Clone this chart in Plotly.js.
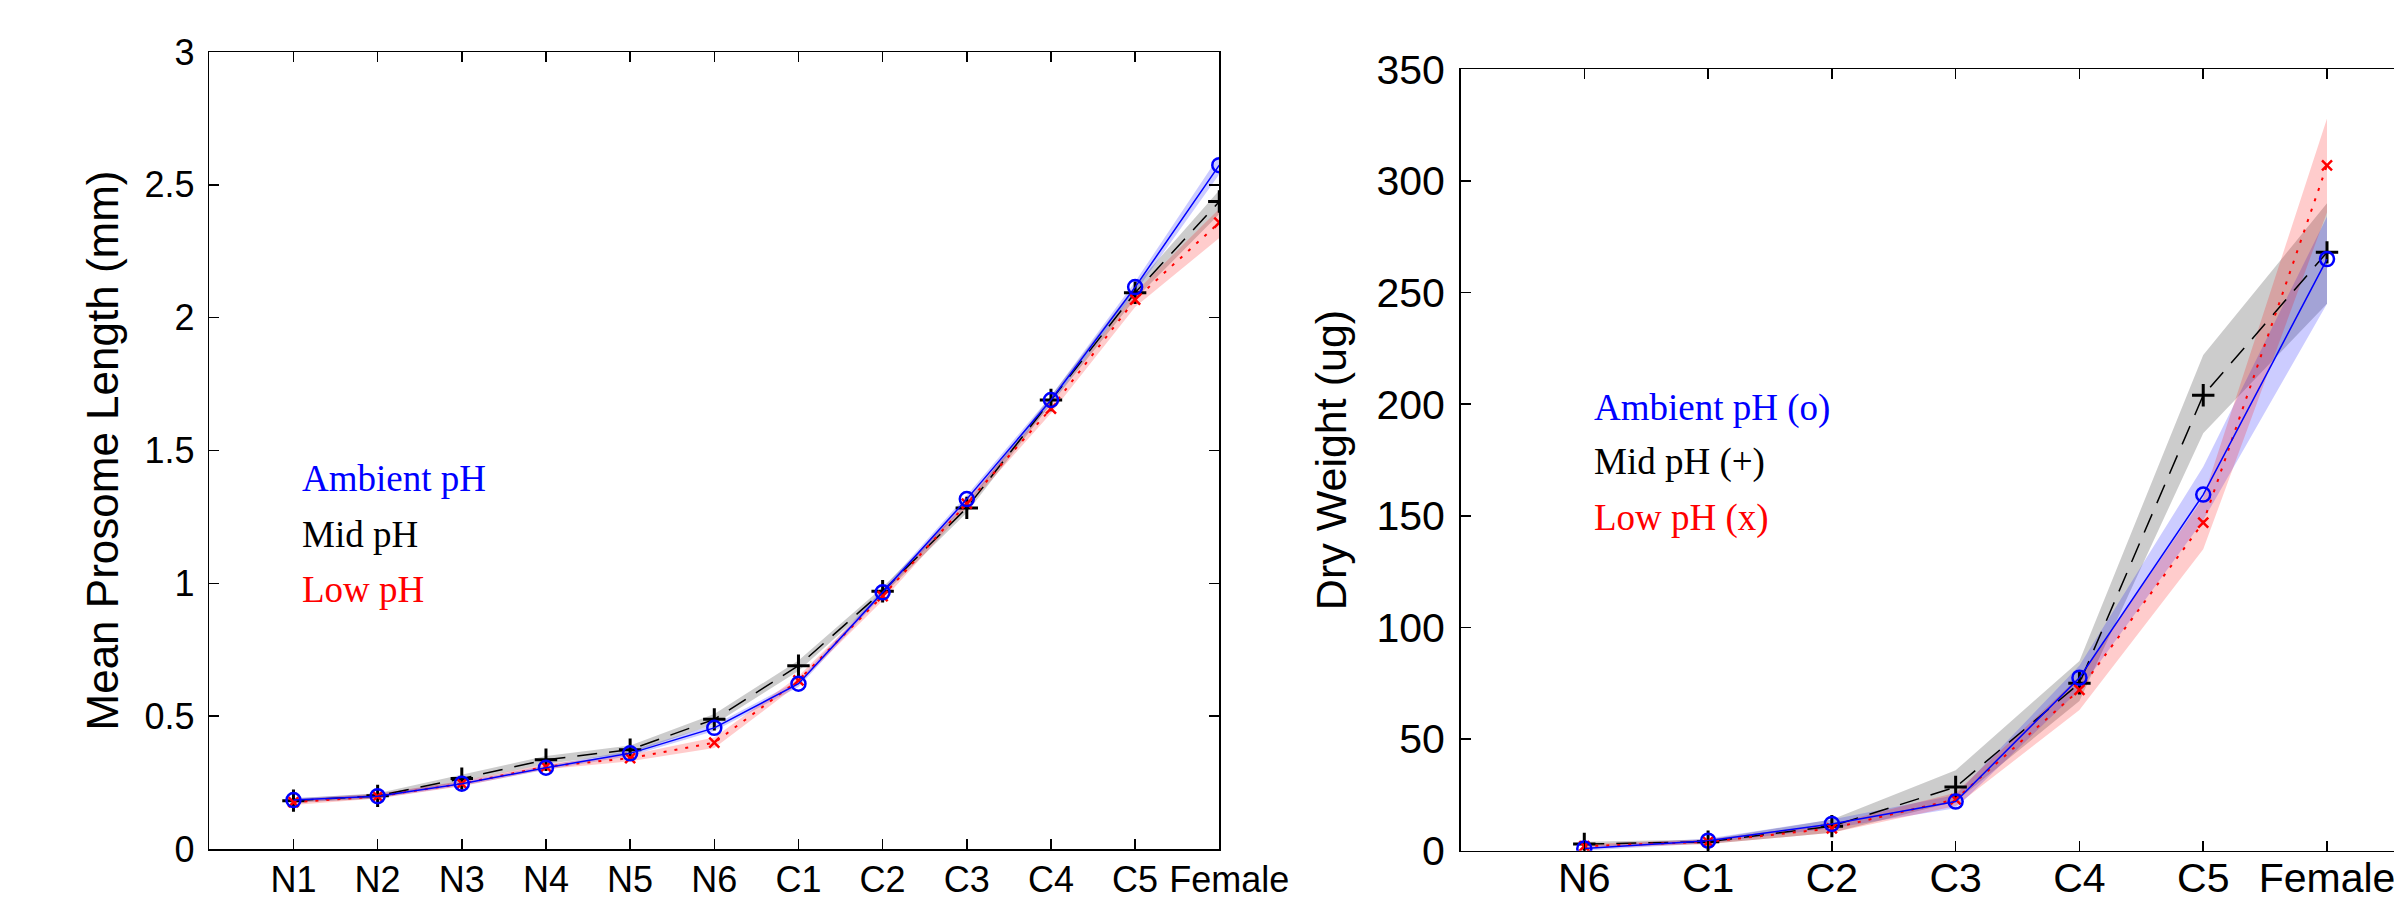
<!DOCTYPE html>
<html><head><meta charset="utf-8">
<script src="https://cdn.plot.ly/plotly-3.0.1.min.js"></script>
<style>html,body{margin:0;padding:0;overflow:hidden;background:#fff}#chart{width:2460px;height:899px}</style>
</head><body><div id="chart"></div>
<script>
// ---- Left panel: mean prosome length (mm) ----
const stagesLen = ['N1','N2','N3','N4','N5','N6','C1','C2','C3','C4','C5','Female'];
const stagesLenText = ['N1','N2','N3','N4','N5','N6','C1','C2','C3','C4','C5','\u00a0\u00a0Female'];
const ambientLen   = [0.184,0.199,0.246,0.306,0.360,0.456,0.622,0.966,1.317,1.690,2.115,2.574];
const ambientLenLo = [0.176,0.191,0.238,0.298,0.350,0.444,0.610,0.955,1.300,1.675,2.095,2.540];
const ambientLenHi = [0.192,0.207,0.254,0.314,0.370,0.468,0.634,0.978,1.332,1.705,2.135,2.610];
const midLen   = [0.182,0.200,0.265,0.336,0.374,0.488,0.690,0.970,1.284,1.690,2.094,2.437];
const midLenLo = [0.174,0.190,0.254,0.320,0.360,0.470,0.670,0.955,1.266,1.675,2.070,2.390];
const midLenHi = [0.190,0.210,0.280,0.350,0.390,0.508,0.710,0.985,1.300,1.705,2.120,2.480];
const lowLen   = [0.176,0.198,0.246,0.310,0.342,0.400,0.635,0.952,1.300,1.658,2.068,2.358];
const lowLenLo = [0.166,0.190,0.236,0.300,0.330,0.380,0.620,0.935,1.285,1.640,2.040,2.300];
const lowLenHi = [0.186,0.208,0.256,0.320,0.355,0.420,0.650,0.965,1.315,1.675,2.095,2.410];

// ---- Right panel: dry weight (ug) ----
const stagesWt = ['N6','C1','C2','C3','C4','C5','Female'];
const ambientWt   = [1,4.5,12,22,77.5,159.5,265];
const ambientWtLo = [0,3.5,10,19,72,148,245];
const ambientWtHi = [2,5.5,14,25,83,172,284];
const midWt   = [3,4,11,28.5,75,204,268];
const midWtLo = [2,3,8,22,67,187,245];
const midWtHi = [4,5,14,36,85,222,290];
const lowWt   = [2,4,10,23,72,147,307];
const lowWtLo = [1,3,8,20,63,135,286];
const lowWtHi = [3,5,12,26,78,158,328];

const lenTicks = [0,0.5,1,1.5,2,2.5,3];
const lenTickText = ['0','0.5','1','1.5','2','2.5','3'];
const wtTicks = [0,50,100,150,200,250,300,350];

function band(xs, lo, hi, color, xa, ya){
  return {x: xs.concat(xs.slice().reverse()), y: lo.concat(hi.slice().reverse()),
    type:'scatter', mode:'lines', fill:'toself', fillcolor:color, line:{width:0, color:'rgba(0,0,0,0)'},
    hoverinfo:'skip', showlegend:false, xaxis:xa, yaxis:ya};
}
function series(xs, ys, color, dash, symbol, msize, mlw, lw, xa, ya, name){
  return {x: xs, y: ys, type:'scatter', mode:'lines+markers', name:name, showlegend:false,
    line:{color:color, width:lw, dash:dash},
    marker:{symbol:symbol, size:msize, color:color, line:{color:color, width:mlw}},
    xaxis:xa, yaxis:ya};
}

const DASH = '20px,12px', DOT = '3px,8px';
const traces = [
  band(stagesLen, midLenLo, midLenHi, 'rgba(0,0,0,0.2)', 'x', 'y'),
  band(stagesLen, ambientLenLo, ambientLenHi, 'rgba(0,0,255,0.2)', 'x', 'y'),
  band(stagesLen, lowLenLo, lowLenHi, 'rgba(255,0,0,0.2)', 'x', 'y'),
  series(stagesLen, midLen, '#000000', DASH, 'cross-thin-open', 16, 3, 1.5, 'x', 'y', 'Mid pH'),
  series(stagesLen, lowLen, '#ff0000', DOT, 'x-thin-open', 10, 2.5, 2, 'x', 'y', 'Low pH'),
  series(stagesLen, ambientLen, '#0000ff', 'solid', 'circle-open', 14, 2.5, 1.5, 'x', 'y', 'Ambient pH'),

  band(stagesWt, midWtLo, midWtHi, 'rgba(0,0,0,0.2)', 'x2', 'y2'),
  band(stagesWt, ambientWtLo, ambientWtHi, 'rgba(0,0,255,0.2)', 'x2', 'y2'),
  band(stagesWt, lowWtLo, lowWtHi, 'rgba(255,0,0,0.2)', 'x2', 'y2'),
  series(stagesWt, midWt, '#000000', DASH, 'cross-thin-open', 16, 3, 1.5, 'x2', 'y2', 'Mid pH (+)'),
  series(stagesWt, lowWt, '#ff0000', DOT, 'x-thin-open', 10, 2.5, 2, 'x2', 'y2', 'Low pH (x)'),
  series(stagesWt, ambientWt, '#0000ff', 'solid', 'circle-open', 14, 2.5, 1.5, 'x2', 'y2', 'Ambient pH (o)')
];

const W = 2460, H = 899;
const sansFont = 'Liberation Sans, Arial, Helvetica, sans-serif';
const serifFont = 'Liberation Serif, Times New Roman, serif';
function xAxis(cats, labels, domain, fs, standoff){
  return {type:'category', categoryorder:'array', categoryarray:cats, domain:domain,
    range:[-1, cats.length-1 + (cats.length===7 ? 1 : 0)],
    tickmode:'array', tickvals:cats, ticktext:labels,
    showline:true, linecolor:'#000', linewidth:1.5, mirror:'ticks',
    ticks:'inside', ticklen:10, tickwidth:1.5, tickcolor:'#000', tickangle:0, ticklabelstandoff:standoff,
    showgrid:false, zeroline:false, tickfont:{family:sansFont, size:fs, color:'#000'}, fixedrange:true};
}
function yAxis(domain, range, tv, tt, fs, title, tfs, standoff){
  return {domain:domain, range:range, tickmode:'array', tickvals:tv, ticktext:tt,
    showline:true, linecolor:'#000', linewidth:1.5, mirror:'ticks',
    ticks:'inside', ticklen:10, tickwidth:1.5, tickcolor:'#000', ticklabelstandoff:6,
    showgrid:false, zeroline:false, tickfont:{family:sansFont, size:fs, color:'#000'},
    title:{text:title, font:{family:sansFont, size:tfs, color:'#000'}, standoff:standoff}, fixedrange:true};
}

const layout = {
  width: W, height: H, margin:{l:0,r:0,t:0,b:0}, paper_bgcolor:'#fff', plot_bgcolor:'#fff',
  showlegend:false,
  xaxis: xAxis(stagesLen, stagesLenText, [209.3/W, 1219.3/W], 36, -2),
  yaxis: yAxis([1-849/H, 1-52/H], [0,3], lenTicks, lenTickText, 36, 'Mean Prosome Length (mm)', 44, 12),
  xaxis2: Object.assign(xAxis(stagesWt, stagesWt, [1460.5/W, 2450.8/W], 41, -9), {anchor:'y2'}),
  yaxis2: Object.assign(yAxis([1-850.7/H, 1-69.3/H], [0,350], wtTicks, wtTicks.map(String), 41, 'Dry Weight (ug)', 43, 16), {anchor:'x2'}),
  annotations: [
    {text:'Ambient pH', x:300/W, y:1-478/H, xref:'paper', yref:'paper', xanchor:'left', yanchor:'middle', showarrow:false, font:{family:serifFont, size:37, color:'#0000ff'}},
    {text:'Mid pH', x:300/W, y:1-534/H, xref:'paper', yref:'paper', xanchor:'left', yanchor:'middle', showarrow:false, font:{family:serifFont, size:37, color:'#000000'}},
    {text:'Low pH', x:300/W, y:1-589/H, xref:'paper', yref:'paper', xanchor:'left', yanchor:'middle', showarrow:false, font:{family:serifFont, size:37, color:'#ff0000'}},
    {text:'Ambient pH (o)', x:1592/W, y:1-408/H, xref:'paper', yref:'paper', xanchor:'left', yanchor:'middle', showarrow:false, font:{family:serifFont, size:37, color:'#0000ff'}},
    {text:'Mid pH (+)', x:1592/W, y:1-462/H, xref:'paper', yref:'paper', xanchor:'left', yanchor:'middle', showarrow:false, font:{family:serifFont, size:37, color:'#000000'}},
    {text:'Low pH (x)', x:1592/W, y:1-518/H, xref:'paper', yref:'paper', xanchor:'left', yanchor:'middle', showarrow:false, font:{family:serifFont, size:37, color:'#ff0000'}}
  ]
};

Plotly.newPlot('chart', traces, layout, {displayModeBar:false, staticPlot:true});
</script>
</body></html>
